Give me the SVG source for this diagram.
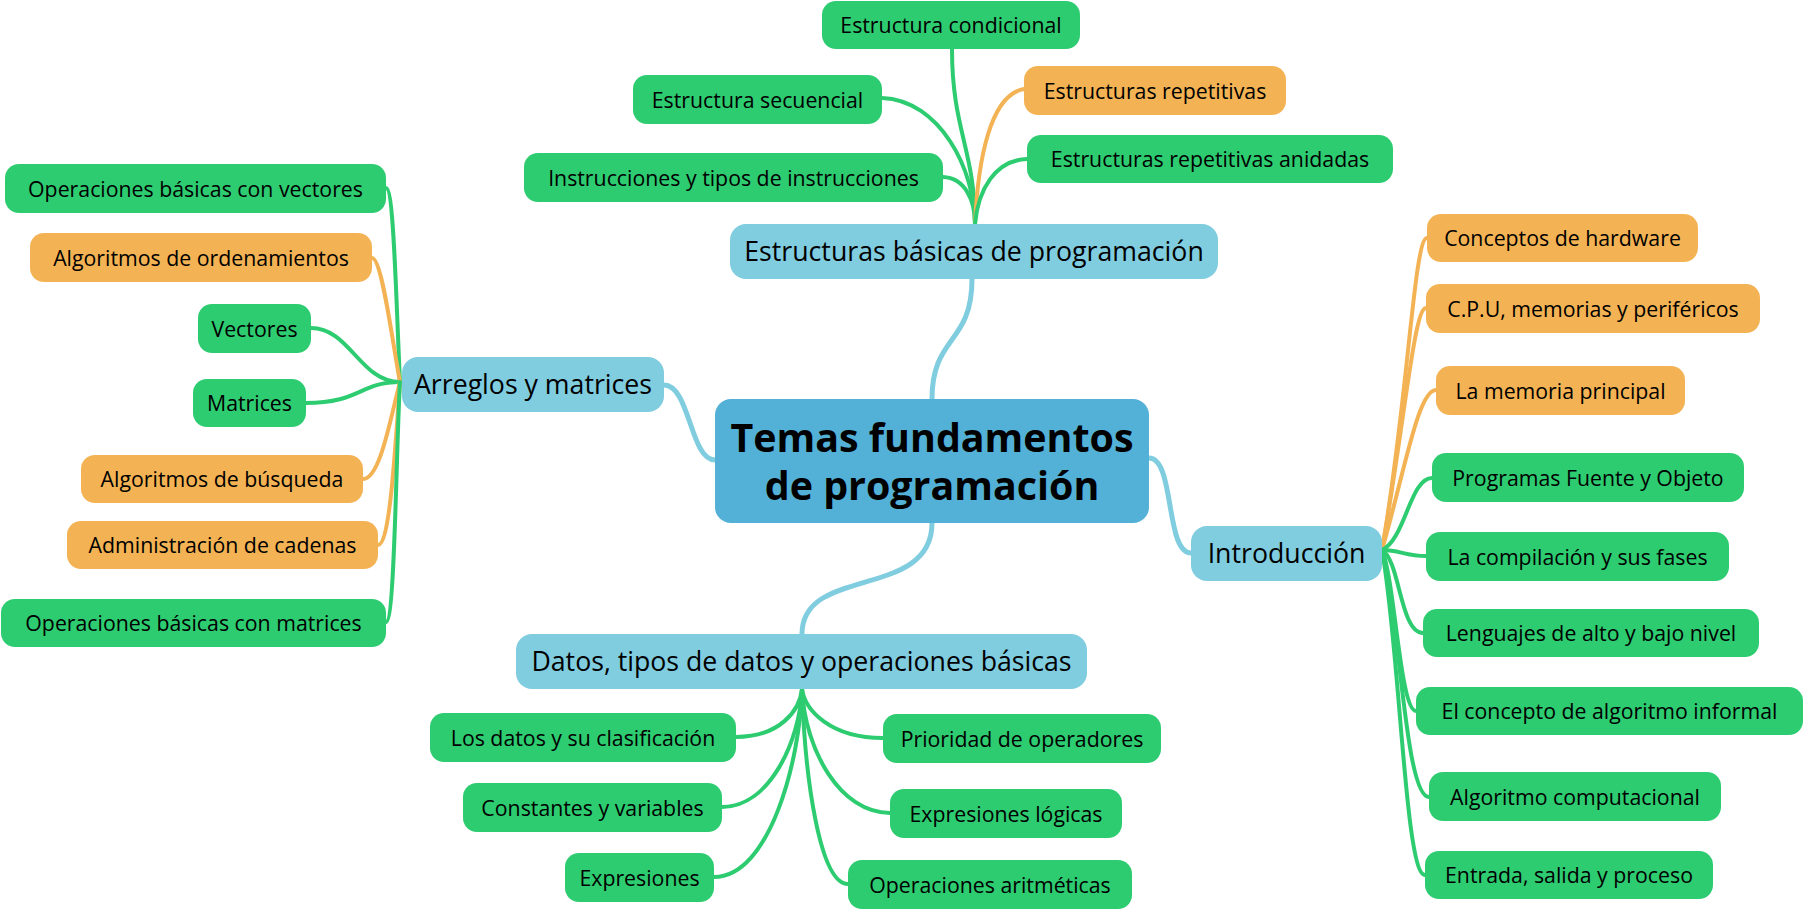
<svg xmlns="http://www.w3.org/2000/svg" width="1804" height="909" viewBox="0 0 1804 909">
<style>
.bg{fill:#ffffff}
.c{fill:none;stroke-linecap:round}
.cb{stroke:#80cde0;stroke-width:5}
.cg{stroke:#2ecc71;stroke-width:4}
.co{stroke:#f3b354;stroke-width:4}
.root rect{fill:#53b1d8}
.main rect{fill:#80cde0}
.g rect{fill:#2ecc71}
.o rect{fill:#f3b354}
text{font-family:"Open Sans","Noto Sans","DejaVu Sans",sans-serif;fill:#000;text-anchor:middle}
.root text{font-size:39.4px;font-weight:bold}
.main text{font-size:26.7px}
.g text,.o text{font-size:21.3px}
</style>
<rect class="bg" x="0" y="0" width="1804" height="909"/>
<g id="connectors">
<path class="c cb" d="M932,399 C932,335 972,345 972,279"/>
<path class="c cb" d="M715,460 C690,460 690,385 664,385"/>
<path class="c cb" d="M1149,458 C1175,458 1165,553 1191,553"/>
<path class="c cb" d="M932,523 C932,600 802,565 802,634"/>
<path class="c cg" d="M952,49 C952,130 975,150 975,224"/>
<path class="c cg" d="M882,98 C940,100 975,170 975,224"/>
<path class="c cg" d="M943,177 C965,178 975,200 975,224"/>
<path class="c co" d="M1024,89 C990,95 978,160 975,224"/>
<path class="c cg" d="M1027,159 C995,160 978,190 975,224"/>
<path class="c cg" d="M386,188 C394,188 396,300 400,382"/>
<path class="c co" d="M372,258 C382,258 392,340 400,382"/>
<path class="c cg" d="M311,328 C350,328 360,382 400,382"/>
<path class="c cg" d="M306,403 C360,403 360,382 400,382"/>
<path class="c co" d="M363,479 C380,479 390,420 400,382"/>
<path class="c co" d="M378,545 C390,545 395,450 400,382"/>
<path class="c cg" d="M386,622 C395,622 396,450 400,382"/>
<path class="c co" d="M1427,238 C1414,238 1408,400 1382,550"/>
<path class="c co" d="M1426,308 C1414,308 1405,420 1382,550"/>
<path class="c co" d="M1436,390 C1418,390 1405,470 1382,550"/>
<path class="c cg" d="M1432,478 C1410,478 1405,540 1382,550"/>
<path class="c cg" d="M1426,556 C1405,556 1400,550 1382,550"/>
<path class="c cg" d="M1423,633 C1400,633 1400,560 1382,550"/>
<path class="c cg" d="M1416,711 C1400,711 1395,580 1382,550"/>
<path class="c cg" d="M1429,797 C1405,797 1400,620 1382,550"/>
<path class="c cg" d="M1425,875 C1405,875 1400,650 1382,550"/>
<path class="c cg" d="M736,737 C780,737 800,710 802,689"/>
<path class="c cg" d="M722,807 C770,807 800,740 802,689"/>
<path class="c cg" d="M714,877 C770,877 800,760 802,689"/>
<path class="c cg" d="M883,738 C830,738 805,710 802,689"/>
<path class="c cg" d="M890,813 C840,813 805,750 802,689"/>
<path class="c cg" d="M848,884 C820,884 805,780 802,689"/>
</g>
<g id="root" class="root"><rect x="715" y="399" width="434" height="124" rx="16"/><text x="932" y="452">Temas fundamentos<tspan x="932" dy="48">de programación</tspan></text></g>
<g id="basicas" class="main"><rect x="730" y="224" width="488" height="55" rx="16"/><text x="974" y="261">Estructuras básicas de programación</text></g>
<g id="arreglos" class="main"><rect x="402" y="357" width="262" height="55" rx="16"/><text x="533" y="394">Arreglos y matrices</text></g>
<g id="intro" class="main"><rect x="1191" y="526" width="191" height="55" rx="16"/><text x="1286.5" y="563">Introducción</text></g>
<g id="datos" class="main"><rect x="516" y="634" width="571" height="55" rx="16"/><text x="801.5" y="671">Datos, tipos de datos y operaciones básicas</text></g>
<g id="condicional" class="g"><rect x="822" y="1" width="258" height="48" rx="14"/><text x="951" y="33">Estructura condicional</text></g>
<g id="secuencial" class="g"><rect x="633" y="75" width="249" height="49" rx="14"/><text x="757.5" y="108">Estructura secuencial</text></g>
<g id="repetitivas" class="o"><rect x="1024" y="66" width="262" height="49" rx="14"/><text x="1155" y="99">Estructuras repetitivas</text></g>
<g id="instrucciones" class="g"><rect x="524" y="153" width="419" height="49" rx="14"/><text x="733.5" y="186">Instrucciones y tipos de instrucciones</text></g>
<g id="anidadas" class="g"><rect x="1027" y="135" width="366" height="48" rx="14"/><text x="1210" y="167">Estructuras repetitivas anidadas</text></g>
<g id="opvectores" class="g"><rect x="5" y="164" width="381" height="49" rx="14"/><text x="195.5" y="197">Operaciones básicas con vectores</text></g>
<g id="ordenamientos" class="o"><rect x="30" y="233" width="342" height="49" rx="14"/><text x="201" y="266">Algoritmos de ordenamientos</text></g>
<g id="vectores" class="g"><rect x="198" y="304" width="113" height="49" rx="14"/><text x="254.5" y="337">Vectores</text></g>
<g id="matrices" class="g"><rect x="193" y="379" width="113" height="48" rx="14"/><text x="249.5" y="411">Matrices</text></g>
<g id="busqueda" class="o"><rect x="81" y="455" width="282" height="48" rx="14"/><text x="222" y="487">Algoritmos de búsqueda</text></g>
<g id="cadenas" class="o"><rect x="67" y="521" width="311" height="48" rx="14"/><text x="222.5" y="553">Administración de cadenas</text></g>
<g id="opmatrices" class="g"><rect x="1" y="599" width="385" height="48" rx="14"/><text x="193.5" y="631">Operaciones básicas con matrices</text></g>
<g id="hardware" class="o"><rect x="1427" y="214" width="271" height="48" rx="14"/><text x="1562.5" y="246">Conceptos de hardware</text></g>
<g id="cpu" class="o"><rect x="1426" y="284" width="334" height="49" rx="14"/><text x="1593" y="317">C.P.U, memorias y periféricos</text></g>
<g id="memoria" class="o"><rect x="1436" y="366" width="249" height="49" rx="14"/><text x="1560.5" y="399">La memoria principal</text></g>
<g id="programas" class="g"><rect x="1432" y="453" width="312" height="49" rx="14"/><text x="1588" y="486">Programas Fuente y Objeto</text></g>
<g id="compilacion" class="g"><rect x="1426" y="532" width="303" height="49" rx="14"/><text x="1577.5" y="565">La compilación y sus fases</text></g>
<g id="lenguajes" class="g"><rect x="1423" y="609" width="336" height="48" rx="14"/><text x="1591" y="641">Lenguajes de alto y bajo nivel</text></g>
<g id="algoritmoinformal" class="g"><rect x="1416" y="687" width="387" height="48" rx="14"/><text x="1609.5" y="719">El concepto de algoritmo informal</text></g>
<g id="computacional" class="g"><rect x="1429" y="772" width="292" height="49" rx="14"/><text x="1575" y="805">Algoritmo computacional</text></g>
<g id="entrada" class="g"><rect x="1425" y="851" width="288" height="48" rx="14"/><text x="1569" y="883">Entrada, salida y proceso</text></g>
<g id="losdatos" class="g"><rect x="430" y="713" width="306" height="49" rx="14"/><text x="583" y="746">Los datos y su clasificación</text></g>
<g id="constantes" class="g"><rect x="463" y="783" width="259" height="49" rx="14"/><text x="592.5" y="816">Constantes y variables</text></g>
<g id="expresiones" class="g"><rect x="565" y="853" width="149" height="49" rx="14"/><text x="639.5" y="886">Expresiones</text></g>
<g id="prioridad" class="g"><rect x="883" y="714" width="278" height="49" rx="14"/><text x="1022" y="747">Prioridad de operadores</text></g>
<g id="logicas" class="g"><rect x="890" y="789" width="232" height="49" rx="14"/><text x="1006" y="822">Expresiones lógicas</text></g>
<g id="aritmeticas" class="g"><rect x="848" y="860" width="284" height="49" rx="14"/><text x="990" y="893">Operaciones aritméticas</text></g>
</svg>
